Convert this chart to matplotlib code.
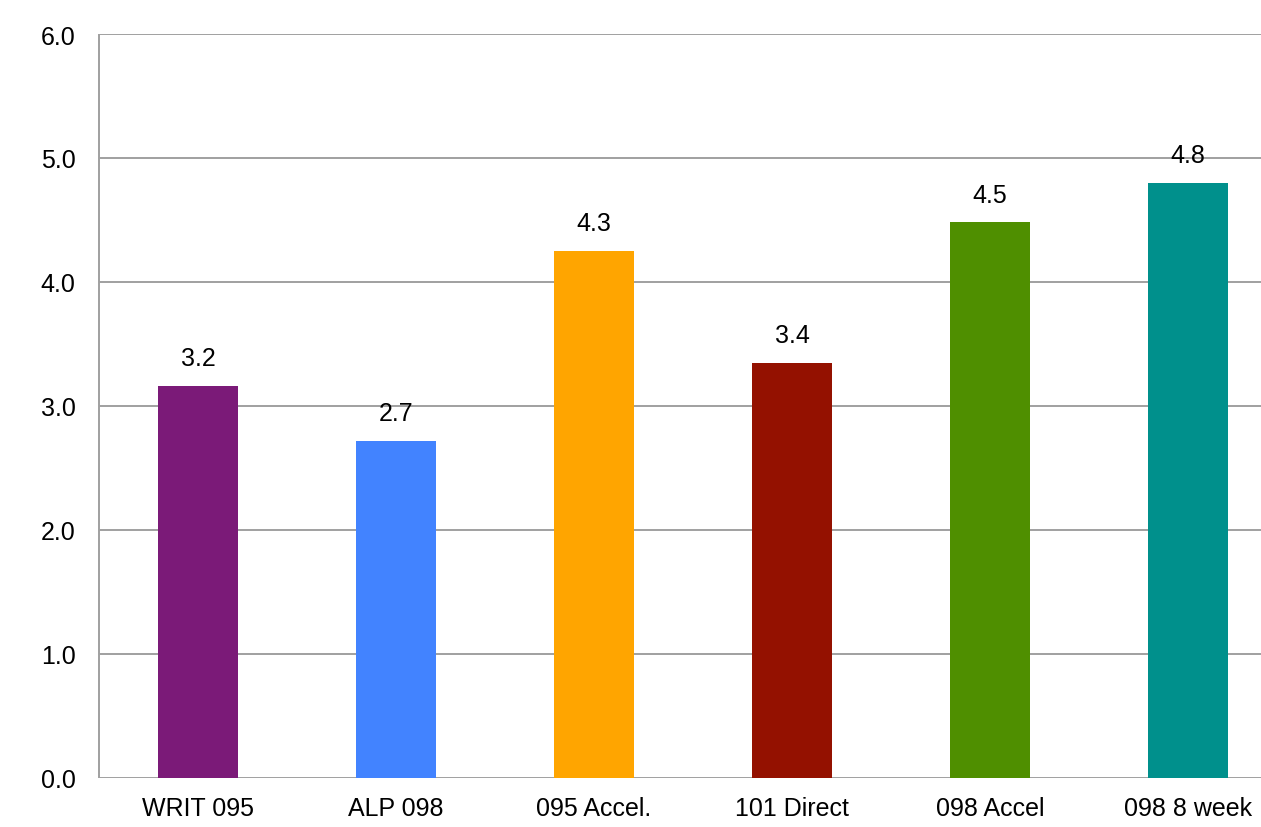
import numpy as np
import matplotlib.pyplot as plt

plt.rcParams['font.family'] = ['Liberation Sans', 'DejaVu Sans']

categories = ["WRIT 095", "ALP 098", "095 Accel.", "101 Direct", "098 Accel", "098 8 week"]
values = [3.16, 2.72, 4.25, 3.35, 4.48, 4.80]
labels = ["3.2", "2.7", "4.3", "3.4", "4.5", "4.8"]
colors = ["#7B1A78", "#4283FF", "#FFA500", "#941100", "#4F8F00", "#00908C"]

W, H = 1261, 828
fig = plt.figure(figsize=(W / 100, H / 100), dpi=100)
ax = fig.add_axes([99 / W, 49 / H, 1188 / W, 744 / H])

x = np.arange(len(categories))
ax.bar(x, values, width=0.40, color=colors, zorder=3)
for xi, v, lab in zip(x, values, labels):
    ax.text(xi, v + 0.225, lab, ha='center', va='center', fontsize=18, color='black', zorder=4)

ax.set_xlim(-0.5, len(categories) - 0.5)
ax.set_ylim(0, 6)
ax.set_yticks(np.arange(0, 6.01, 1.0))
ax.set_yticklabels([f"{t:.1f}" for t in np.arange(0, 6.01, 1.0)], fontsize=18)
ax.set_xticks(x)
ax.set_xticklabels(categories, fontsize=18)
ax.tick_params(axis='x', length=0, pad=13)
ax.tick_params(axis='y', length=0, pad=17)
ax.yaxis.grid(True, color='#A0A0A0', linewidth=1.4, zorder=0)
for s in ['top', 'right', 'bottom']:
    ax.spines[s].set_visible(False)
ax.spines['left'].set_color('#A0A0A0')
ax.spines['left'].set_linewidth(1.4)
ax.spines['left'].set_capstyle('butt')

fig.savefig("out.png", dpi=100)
